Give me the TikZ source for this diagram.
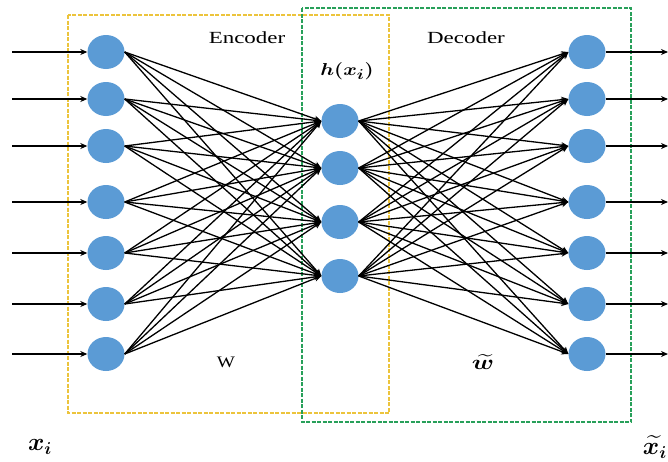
\documentclass[tikz,border=0pt]{standalone}
\usepackage{amsmath}
\usepackage{fontspec}
\setmainfont{Liberation Serif}
\usetikzlibrary{shapes.geometric,arrows.meta}
\definecolor{nodeblue}{RGB}{91,155,213}
\definecolor{encyellow}{RGB}{236,196,60}
\definecolor{decgreen}{RGB}{40,160,90}
\tikzset{
  neuron/.style={ellipse,fill=nodeblue,draw=none,minimum width=37pt,minimum height=34pt,inner sep=0pt},
  conn/.style={line width=1.3pt,-{Stealth[length=7pt,width=6pt]}},
  io/.style={line width=1.5pt,-{Stealth[length=7pt,width=6pt]}},
  encbox/.style={draw=encyellow,line width=2pt,dash pattern=on 4pt off 1.5pt},
  decbox/.style={draw=decgreen,line width=2pt,dash pattern=on 4pt off 1.5pt},
  lbl/.style={font=\fontsize{17}{19}\selectfont,inner sep=0pt}
}
\begin{document}
\begin{tikzpicture}[x=1pt,y=-1pt]
\useasboundingbox (0,0) rectangle (668,461);
% boxes
\draw[encbox] (68,15) rectangle (389,413);
\draw[decbox] (302,8) rectangle (631,422);
% nodes
\foreach \i/\y in {1/52,2/99,3/146,4/202,5/253,6/304,7/354}{
  \node[neuron] (l\i) at (106,\y) {};
  \node[neuron] (r\i) at (587,\y) {};
  \coordinate (in\i) at (12,\y);
  \coordinate (out\i) at (668,\y);
}
\foreach \j/\y in {1/121,2/168,3/222,4/276}{
  \node[neuron] (h\j) at (340,\y) {};
}
% connections
\foreach \i in {1,...,7}{
  \foreach \j in {1,...,4}{
    \draw[conn] (l\i.east) -- (h\j.west);
    \draw[conn] (h\j.east) -- (r\i.west);
  }
  \draw[io] (in\i) -- (l\i.west);
  \draw[io] (r\i.east) -- (out\i);
}
% labels
\node[lbl] (enc) at (247,38) {\scalebox{1.35}[1]{Encoder}};
\node[lbl] (dec) at (466,38) {\scalebox{1.35}[1]{Decoder}};
\node[lbl,font=\fontsize{19}{21}\selectfont] (hx) at (347,71) {\scalebox{1.2}[1]{$\boldsymbol{h(x_i)}$}};
\node[lbl,font=\fontsize{16}{18}\selectfont] (w) at (226,362) {\scalebox{1.2}[1]{W}};
\node[lbl,font=\fontsize{22}{24}\selectfont] (wt) at (483,362) {\scalebox{1.25}[1]{$\boldsymbol{\widetilde{w}}$}};
\node[lbl,font=\fontsize{26}{28}\selectfont] (xi) at (40,447) {$\boldsymbol{x_i}$};
\node[lbl,font=\fontsize{24}{26}\selectfont,anchor=east] (xti) at (667,447) {$\boldsymbol{\widetilde{x_i}}$};
\end{tikzpicture}
\end{document}
